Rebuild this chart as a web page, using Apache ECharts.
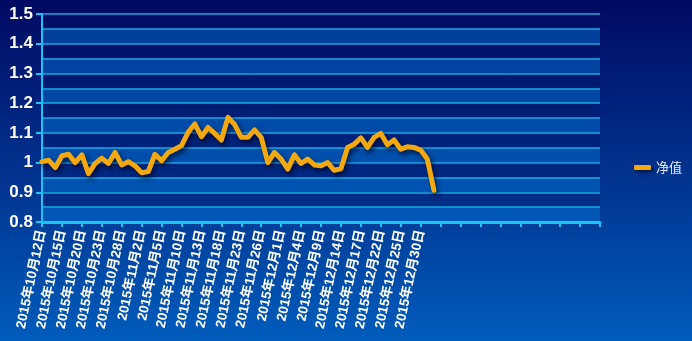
<!DOCTYPE html>
<html>
<head>
<meta charset="utf-8">
<script src="https://cdn.jsdelivr.net/npm/echarts@6/dist/echarts.min.js"></script>
<style>
html,body{margin:0;padding:0;width:692px;height:341px;overflow:hidden;}
#c{width:692px;height:341px;background:linear-gradient(to bottom,#000a62 0%,#003a96 60%,#005cbc 100%);}
</style>
</head>
<body>
<div id="c"></div>
<script>
var dates = [
 "2015年10月12日","2015年10月13日","2015年10月14日","2015年10月15日","2015年10月16日",
 "2015年10月19日","2015年10月20日","2015年10月21日","2015年10月22日","2015年10月23日",
 "2015年10月26日","2015年10月27日","2015年10月28日","2015年10月29日","2015年10月30日",
 "2015年11月2日","2015年11月3日","2015年11月4日","2015年11月5日","2015年11月6日",
 "2015年11月9日","2015年11月10日","2015年11月11日","2015年11月12日","2015年11月13日",
 "2015年11月16日","2015年11月17日","2015年11月18日","2015年11月19日","2015年11月20日",
 "2015年11月23日","2015年11月24日","2015年11月25日","2015年11月26日","2015年11月27日",
 "2015年11月30日","2015年12月1日","2015年12月2日","2015年12月3日","2015年12月4日",
 "2015年12月7日","2015年12月8日","2015年12月9日","2015年12月10日","2015年12月11日",
 "2015年12月14日","2015年12月15日","2015年12月16日","2015年12月17日","2015年12月18日",
 "2015年12月21日","2015年12月22日","2015年12月23日","2015年12月24日","2015年12月25日",
 "2015年12月28日","2015年12月29日","2015年12月30日","2015年12月31日","2016年1月4日"
];
var emptySlots = 25;
var netValue = [
 1.003,1.008,0.983,1.023,1.028,1.000,1.026,0.963,0.997,1.015,
 0.997,1.034,0.992,1.003,0.989,0.966,0.970,1.028,1.006,1.034,
 1.045,1.057,1.102,1.130,1.087,1.118,1.098,1.076,1.152,1.128,
 1.085,1.085,1.110,1.085,1.000,1.034,1.012,0.978,1.026,0.997,
 1.012,0.992,0.989,1.000,0.974,0.979,1.051,1.062,1.083,1.051,
 1.085,1.098,1.060,1.076,1.045,1.053,1.051,1.042,1.012,0.907
];
var seriesName = "净值";
var yMin = 0.8, yMax = 1.5, yLabelStep = 0.1, yBandStep = 0.05;

var categories = dates.concat(new Array(emptySlots).fill(''));

var chart = echarts.init(document.getElementById('c'), null, {renderer:'canvas'});
var cyan = '#1cc4f6';
chart.setOption({
  backgroundColor: 'transparent',
  animation: false,
  grid: {left: 42, right: 92, top: 14, bottom: 119, containLabel: false},
  legend: {
    data: [{name: seriesName, icon: 'roundRect'}],
    orient: 'vertical',
    left: 629, top: 156,
    itemWidth: 17, itemHeight: 5,
    itemGap: 10,
    textStyle: {color: '#e6ecff', fontSize: 13, fontFamily: 'Noto Sans CJK SC'},
    itemStyle: {shadowColor: 'rgba(0,0,0,0.6)', shadowBlur: 4, shadowOffsetX: 2, shadowOffsetY: 2}
  },
  xAxis: {
    type: 'category',
    data: categories,
    boundaryGap: false,
    axisLine: {lineStyle: {color: cyan, width: 3}},
    axisTick: {show: true, interval: 2, length: 5, lineStyle: {color: cyan, width: 2}},
    axisLabel: {
      interval: 2, rotate: 78, color: '#ffffff', fontWeight: 'bold',
      fontSize: 13.5, fontFamily: 'Liberation Sans, Noto Sans CJK SC', margin: 8
    },
    splitLine: {show: false}
  },
  yAxis: [
    {
      type: 'value', min: yMin, max: yMax, interval: yLabelStep,
      axisLine: {show: true, lineStyle: {color: cyan, width: 2}},
      axisTick: {show: true, length: 6, lineStyle: {color: cyan, width: 2}},
      axisLabel: {color: '#ffffff', fontWeight: 'bold', fontSize: 17,
        fontFamily: 'Liberation Sans', margin: 9,
        formatter: function (v) { return String(Math.round(v * 10) / 10); }},
      splitLine: {show: false},
      splitArea: {show: false}
    },
    {
      type: 'value', min: yMin, max: yMax, interval: yBandStep, position: 'left',
      axisLine: {show: false}, axisTick: {show: false}, axisLabel: {show: false},
      splitLine: {show: true, lineStyle: {color: '#1aa8e6', width: 1.5}},
      splitArea: {show: true, areaStyle: {color: ['rgba(0,120,215,0.45)', 'rgba(0,10,90,0.25)']}}
    }
  ],
  series: [{
    name: seriesName,
    type: 'line',
    data: netValue,
    yAxisIndex: 0,
    showSymbol: false,
    symbol: 'none',
    smooth: false,
    itemStyle: {color: '#f4a80f'},
    lineStyle: {color: '#f4a80f', width: 5, cap: 'round', join: 'round',
      shadowColor: 'rgba(0,0,30,0.7)', shadowBlur: 5, shadowOffsetX: 2, shadowOffsetY: 3},
    z: 5
  }]
});
</script>
</body>
</html>
